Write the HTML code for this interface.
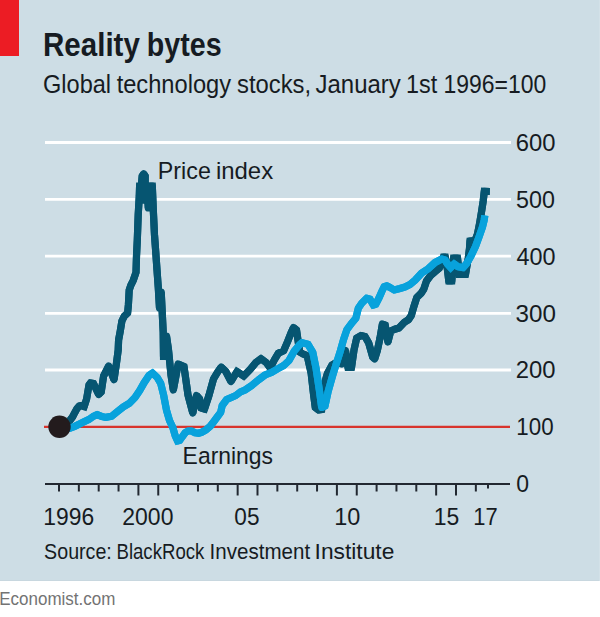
<!DOCTYPE html>
<html><head><meta charset="utf-8"><style>
html,body{margin:0;padding:0;background:#fff;}
body{width:600px;height:617px;overflow:hidden;position:relative;}
svg{position:absolute;left:0;top:0;display:block;}
text{font-family:"Liberation Sans",sans-serif;fill:#161b22;}
</style></head><body>
<svg width="600" height="617" viewBox="0 0 600 617">
<rect x="0" y="0" width="600" height="581" fill="#cddde5"/>
<rect x="0" y="580" width="600" height="1" fill="#c8d7df"/>
<rect x="599" y="0" width="1" height="581" fill="#d3e1e8"/>
<rect x="0" y="0" width="19" height="56" fill="#ec1c24"/>
<g stroke="#ffffff" stroke-width="2.8"><line x1="45" y1="142.5" x2="511" y2="142.5"/><line x1="45" y1="199.3" x2="511" y2="199.3"/><line x1="45" y1="256.2" x2="511" y2="256.2"/><line x1="45" y1="313.4" x2="511" y2="313.4"/><line x1="45" y1="370.0" x2="511" y2="370.0"/></g>
<line x1="44" y1="426.8" x2="510" y2="426.8" stroke="#d8342d" stroke-width="2.2"/>
<g stroke="#222831" stroke-width="2">
<line x1="45" y1="484" x2="510" y2="484"/>
<line x1="59.00" y1="484" x2="59.00" y2="491.5"/><line x1="78.85" y1="484" x2="78.85" y2="491.5"/><line x1="98.70" y1="484" x2="98.70" y2="491.5"/><line x1="118.55" y1="484" x2="118.55" y2="491.5"/><line x1="138.40" y1="484" x2="138.40" y2="495.5"/><line x1="158.25" y1="484" x2="158.25" y2="495.5"/><line x1="178.10" y1="484" x2="178.10" y2="491.5"/><line x1="197.95" y1="484" x2="197.95" y2="491.5"/><line x1="217.80" y1="484" x2="217.80" y2="491.5"/><line x1="237.65" y1="484" x2="237.65" y2="495.5"/><line x1="257.50" y1="484" x2="257.50" y2="495.5"/><line x1="277.35" y1="484" x2="277.35" y2="491.5"/><line x1="297.20" y1="484" x2="297.20" y2="491.5"/><line x1="317.05" y1="484" x2="317.05" y2="491.5"/><line x1="336.90" y1="484" x2="336.90" y2="495.5"/><line x1="356.75" y1="484" x2="356.75" y2="495.5"/><line x1="376.60" y1="484" x2="376.60" y2="491.5"/><line x1="396.45" y1="484" x2="396.45" y2="491.5"/><line x1="416.30" y1="484" x2="416.30" y2="491.5"/><line x1="436.15" y1="484" x2="436.15" y2="495.5"/><line x1="456.00" y1="484" x2="456.00" y2="495.5"/><line x1="475.85" y1="484" x2="475.85" y2="491.5"/><line x1="488" y1="484" x2="488" y2="488.5"/>
</g>
<text x="43.02" y="56.2" font-size="33" font-weight="bold" textLength="96.83" lengthAdjust="spacingAndGlyphs">Reality</text>
<text x="146.81" y="56.2" font-size="33" font-weight="bold" textLength="74.86" lengthAdjust="spacingAndGlyphs">bytes</text>
<text x="43.02" y="93.2" font-size="25" textLength="68.06" lengthAdjust="spacingAndGlyphs">Global</text>
<text x="116.64" y="93.2" font-size="25" textLength="114.5" lengthAdjust="spacingAndGlyphs">technology</text>
<text x="237.04" y="93.2" font-size="25" textLength="74.1" lengthAdjust="spacingAndGlyphs">stocks,</text>
<text x="315.53" y="93.2" font-size="25" textLength="85.32" lengthAdjust="spacingAndGlyphs">January</text>
<text x="406.02" y="93.2" font-size="25" textLength="31.15" lengthAdjust="spacingAndGlyphs">1st</text>
<text x="443.45" y="93.2" font-size="25" textLength="102.74" lengthAdjust="spacingAndGlyphs">1996=100</text>
<text x="515.79" y="151.2" font-size="24.5" textLength="39.74" lengthAdjust="spacingAndGlyphs">600</text>
<text x="516.07" y="207.6" font-size="24.5" textLength="38.84" lengthAdjust="spacingAndGlyphs">500</text>
<text x="516.46" y="264.5" font-size="24.5" textLength="39.05" lengthAdjust="spacingAndGlyphs">400</text>
<text x="515.58" y="321.6" font-size="24.5" textLength="40.37" lengthAdjust="spacingAndGlyphs">300</text>
<text x="515.8" y="378.3" font-size="24.5" textLength="39.73" lengthAdjust="spacingAndGlyphs">200</text>
<text x="516.3" y="435.4" font-size="24.5" textLength="37.27" lengthAdjust="spacingAndGlyphs">100</text>
<text x="516.2" y="492.3" font-size="24.5" textLength="12.8" lengthAdjust="spacingAndGlyphs">0</text>
<text x="43.36" y="525.3" font-size="23.5" textLength="50.85" lengthAdjust="spacingAndGlyphs">1996</text>
<text x="122.35" y="525.3" font-size="23.5" textLength="51.05" lengthAdjust="spacingAndGlyphs">2000</text>
<text x="234.32" y="525.3" font-size="23.5" textLength="25.13" lengthAdjust="spacingAndGlyphs">05</text>
<text x="334.21" y="525.3" font-size="23.5" textLength="26.1" lengthAdjust="spacingAndGlyphs">10</text>
<text x="433.85" y="525.3" font-size="23.5" textLength="25.51" lengthAdjust="spacingAndGlyphs">15</text>
<text x="473.23" y="525.3" font-size="23.5" textLength="24.37" lengthAdjust="spacingAndGlyphs">17</text>
<text x="44.11" y="559" font-size="22.5" textLength="67.69" lengthAdjust="spacingAndGlyphs">Source:</text>
<text x="116.47" y="559" font-size="22.5" textLength="87.9" lengthAdjust="spacingAndGlyphs">BlackRock</text>
<text x="209.6" y="559" font-size="22.5" textLength="100.55" lengthAdjust="spacingAndGlyphs">Investment</text>
<text x="314.6" y="559" font-size="22.5" textLength="79.71" lengthAdjust="spacingAndGlyphs">Institute</text>
<text x="157.84" y="178.6" font-size="24.5" textLength="52.99" lengthAdjust="spacingAndGlyphs">Price</text>
<text x="215.9" y="178.6" font-size="24.5" textLength="57.26" lengthAdjust="spacingAndGlyphs">index</text>
<text x="182.62" y="463.8" font-size="24.5" textLength="90.41" lengthAdjust="spacingAndGlyphs">Earnings</text>
<text x="-0.79" y="604.9" font-size="18" style="fill:#737373" textLength="116.11" lengthAdjust="spacingAndGlyphs">Economist.com</text>
<g fill="none" stroke-width="7.2" stroke-linecap="butt">
<polyline points="59.6,426.5 65.0,424.0 69.6,420.8 72.5,417.0 75.0,412.2 77.0,408.6 79.3,406.0 81.5,405.5 84.2,406.5 86.6,399.0 89.0,385.0 90.5,383.0 93.5,383.5 96.3,389.5 98.7,394.5 101.2,392.0 103.6,376.0 108.7,366.0 114.0,379.7 116.5,363.0 118.2,350.0 118.6,340.0 120.3,330.8 121.9,321.0 124.3,316.2 127.6,313.0 128.4,304.8 129.2,290.2 130.8,285.4 133.2,280.5 136.0,272.4 136.5,256.2 137.3,240.0 138.2,215.0 139.3,196.0 139.6,186.0 141.3,186.0 142.2,176.0 143.7,173.8 145.2,176.0 145.0,200.4 147.0,186.0 148.3,208.0 150.0,186.0 152.3,186.0 153.3,210.0 154.5,235.0 155.6,250.0 157.0,270.0 158.3,288.0 159.5,308.0 161.2,292.0 162.2,312.0 163.2,332.0 163.5,356.5 165.5,356.5 166.5,336.0 168.5,350.0 171.0,375.0 173.3,390.0 178.2,364.0 184.0,366.5 188.0,395.0 192.8,413.0 196.5,395.5 199.6,399.0 201.2,408.0 204.5,409.0 208.8,396.0 213.5,379.0 218.0,371.5 221.2,367.0 225.8,371.5 231.0,381.5 237.0,371.5 243.7,376.0 250.3,369.3 255.7,362.7 261.0,358.7 266.3,362.7 270.3,368.0 274.3,360.0 278.3,353.3 283.7,350.7 287.7,341.3 291.0,333.0 293.5,327.5 296.5,330.0 299.7,352.0 303.1,354.0 307.2,355.7 311.2,373.5 313.6,394.6 315.3,407.5 318.5,410.0 321.7,409.5 324.2,384.8 327.4,373.5 332.0,365.0 337.0,362.0 341.5,364.0 345.5,350.5 348.0,367.5 351.5,367.5 354.0,350.0 356.7,338.0 361.0,335.5 365.0,336.5 368.7,343.0 372.7,357.0 374.7,359.0 377.3,350.7 380.0,338.0 382.4,324.0 385.2,325.1 387.9,342.0 390.7,331.0 394.8,329.2 398.9,328.0 404.4,322.3 408.6,319.6 411.3,315.5 414.1,305.8 416.8,297.5 421.0,293.4 423.7,289.3 426.5,281.0 430.6,275.5 435.0,271.7 439.2,268.3 441.0,264.0 443.3,257.0 445.3,257.0 447.5,270.0 448.8,281.0 451.8,281.0 453.6,258.0 457.5,258.0 459.3,274.5 465.5,274.5 468.3,258.0 469.5,248.5 470.0,241.0 475.0,240.5 477.5,234.0 479.5,224.0 481.5,212.0 483.2,201.0 484.3,191.3 489.8,191.5" stroke="#065571" stroke-linejoin="miter" stroke-miterlimit="1.5"/>
<polyline points="59.6,426.5 65.0,424.0 69.6,420.8 72.5,417.0 75.0,412.2 77.0,408.6 79.3,406.0 81.5,405.5 84.2,406.5 86.6,399.0 89.0,385.0 90.5,383.0 93.5,383.5 96.3,389.5 98.7,394.5 101.2,392.0 103.6,376.0 108.7,366.0 114.0,379.7 116.5,363.0 118.2,350.0 118.6,340.0 120.3,330.8 121.9,321.0 124.3,316.2 127.6,313.0 128.4,304.8 129.2,290.2 130.8,285.4 133.2,280.5 136.0,272.4 136.5,256.2 137.3,240.0 138.2,215.0 139.3,196.0 139.6,186.0 141.3,186.0 142.2,176.0 143.7,173.8 145.2,176.0 145.0,200.4 147.0,186.0 148.3,208.0 150.0,186.0 152.3,186.0 153.3,210.0 154.5,235.0 155.6,250.0 157.0,270.0 158.3,288.0 159.5,308.0 161.2,292.0 162.2,312.0 163.2,332.0 163.5,356.5 165.5,356.5 166.5,336.0 168.5,350.0 171.0,375.0 173.3,390.0 178.2,364.0 184.0,366.5 188.0,395.0 192.8,413.0 196.5,395.5 199.6,399.0 201.2,408.0 204.5,409.0 208.8,396.0 213.5,379.0 218.0,371.5 221.2,367.0 225.8,371.5 231.0,381.5 237.0,371.5 243.7,376.0 250.3,369.3 255.7,362.7 261.0,358.7 266.3,362.7 270.3,368.0 274.3,360.0 278.3,353.3 283.7,350.7 287.7,341.3 291.0,333.0 293.5,327.5 296.5,330.0 299.7,352.0 303.1,354.0 307.2,355.7 311.2,373.5 313.6,394.6 315.3,407.5 318.5,410.0 321.7,409.5 324.2,384.8 327.4,373.5 332.0,365.0 337.0,362.0 341.5,364.0 345.5,350.5 348.0,367.5 351.5,367.5 354.0,350.0 356.7,338.0 361.0,335.5 365.0,336.5 368.7,343.0 372.7,357.0 374.7,359.0 377.3,350.7 380.0,338.0 382.4,324.0 385.2,325.1 387.9,342.0 390.7,331.0 394.8,329.2 398.9,328.0 404.4,322.3 408.6,319.6 411.3,315.5 414.1,305.8 416.8,297.5 421.0,293.4 423.7,289.3 426.5,281.0 430.6,275.5 435.0,271.7 439.2,268.3 441.0,264.0 443.3,257.0 445.3,257.0 447.5,270.0 448.8,281.0 451.8,281.0 453.6,258.0 457.5,258.0 459.3,274.5 465.5,274.5 468.3,258.0 469.5,248.5 470.0,241.0 475.0,240.5 477.5,234.0 479.5,224.0 481.5,212.0 483.2,201.0 484.3,191.3 489.8,191.5" stroke="#065571" stroke-linejoin="round"/>
<polyline points="59.6,426.5 65.0,428.8 70.0,428.2 75.0,426.3 79.0,424.2 84.0,421.8 88.7,419.6 93.0,416.6 97.2,414.6 102.0,416.6 105.8,417.4 111.7,416.2 117.5,411.5 123.3,406.9 129.2,403.4 135.0,397.5 139.7,390.5 144.3,382.4 149.0,375.4 152.5,373.0 157.2,377.5 160.7,383.3 163.6,395.0 166.5,410.2 169.5,420.5 172.8,427.5 175.2,435.7 177.5,440.9 179.8,440.3 182.2,436.8 185.1,432.8 188.0,431.0 191.5,431.0 195.0,432.8 198.5,433.3 202.0,432.2 206.1,429.8 210.2,426.3 213.7,421.7 217.2,417.0 220.7,412.3 222.2,405.5 226.7,399.5 231.3,397.5 235.8,395.5 240.4,392.0 245.0,390.0 251.7,385.5 258.3,380.0 265.0,375.0 271.7,372.3 278.3,368.5 283.7,365.5 289.0,360.5 294.3,351.0 299.7,344.5 302.0,342.7 308.0,344.3 312.8,352.4 316.1,368.6 319.3,389.7 321.7,407.5 325.0,405.9 328.2,391.3 332.3,376.7 336.3,363.8 340.4,350.8 343.6,339.4 346.9,329.7 351.7,323.2 355.8,318.3 358.3,308.3 361.7,303.3 366.7,298.3 370.0,299.2 373.3,305.0 375.8,304.2 379.2,297.5 381.7,291.7 384.2,286.7 386.7,285.8 390.0,287.5 394.2,290.0 400.0,288.5 405.0,287.0 410.0,284.5 415.0,280.3 418.5,276.5 421.7,273.0 428.3,268.7 435.0,262.5 441.7,259.0 445.0,260.0 447.5,264.0 450.7,267.6 454.2,264.0 457.8,266.7 463.1,267.6 466.7,263.5 469.0,259.5 471.0,256.0 475.5,246.5 479.0,237.0 482.5,227.0 484.2,220.0 484.8,215.5" stroke="#08a2dc" stroke-linejoin="miter" stroke-miterlimit="1.5"/>
<polyline points="59.6,426.5 65.0,428.8 70.0,428.2 75.0,426.3 79.0,424.2 84.0,421.8 88.7,419.6 93.0,416.6 97.2,414.6 102.0,416.6 105.8,417.4 111.7,416.2 117.5,411.5 123.3,406.9 129.2,403.4 135.0,397.5 139.7,390.5 144.3,382.4 149.0,375.4 152.5,373.0 157.2,377.5 160.7,383.3 163.6,395.0 166.5,410.2 169.5,420.5 172.8,427.5 175.2,435.7 177.5,440.9 179.8,440.3 182.2,436.8 185.1,432.8 188.0,431.0 191.5,431.0 195.0,432.8 198.5,433.3 202.0,432.2 206.1,429.8 210.2,426.3 213.7,421.7 217.2,417.0 220.7,412.3 222.2,405.5 226.7,399.5 231.3,397.5 235.8,395.5 240.4,392.0 245.0,390.0 251.7,385.5 258.3,380.0 265.0,375.0 271.7,372.3 278.3,368.5 283.7,365.5 289.0,360.5 294.3,351.0 299.7,344.5 302.0,342.7 308.0,344.3 312.8,352.4 316.1,368.6 319.3,389.7 321.7,407.5 325.0,405.9 328.2,391.3 332.3,376.7 336.3,363.8 340.4,350.8 343.6,339.4 346.9,329.7 351.7,323.2 355.8,318.3 358.3,308.3 361.7,303.3 366.7,298.3 370.0,299.2 373.3,305.0 375.8,304.2 379.2,297.5 381.7,291.7 384.2,286.7 386.7,285.8 390.0,287.5 394.2,290.0 400.0,288.5 405.0,287.0 410.0,284.5 415.0,280.3 418.5,276.5 421.7,273.0 428.3,268.7 435.0,262.5 441.7,259.0 445.0,260.0 447.5,264.0 450.7,267.6 454.2,264.0 457.8,266.7 463.1,267.6 466.7,263.5 469.0,259.5 471.0,256.0 475.5,246.5 479.0,237.0 482.5,227.0 484.2,220.0 484.8,215.5" stroke="#08a2dc" stroke-linejoin="round"/>
</g>
<circle cx="59.5" cy="426.8" r="11.2" fill="#231b1d"/>
</svg>
</body></html>
